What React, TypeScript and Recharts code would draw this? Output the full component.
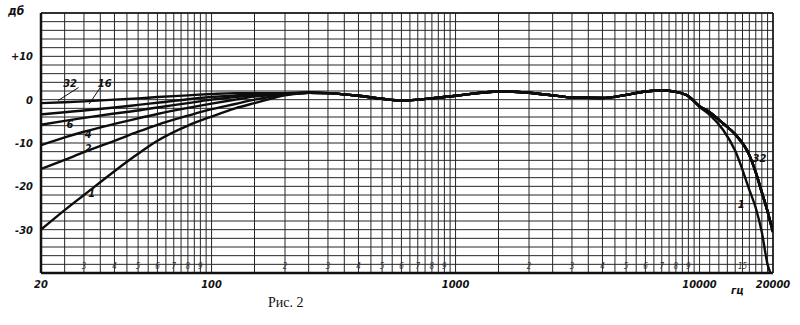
import { LineChart, Line, XAxis, YAxis, CartesianGrid, ReferenceLine, ReferenceDot } from 'recharts'

const freqs = [20, 25, 30, 40, 50, 60, 80, 100, 125, 150, 200, 250, 300, 400, 500, 600, 800, 1000, 1500, 2000, 2500, 3000, 4000, 5000, 6000, 7000, 8000, 9000, 10000, 11000, 12500, 14000, 16000, 17000, 18000, 19000, 19500, 20000]

// 20..200 Hz, one array per curve
const curve1Low = [-30, -25.5, -22, -16.5, -12.5, -9.5, -6, -3.9, -2, -0.8, 1.0]
const curve2Low = [-16, -13.9, -12.1, -9.5, -7.4, -5.8, -3.7, -2.2, -1, 0, 1.2]
const curve4Low = [-10.5, -8.7, -7.4, -5.6, -4.3, -3.3, -1.9, -0.9, 0, 0.7, 1.3]
const curve6Low = [-5.8, -4.9, -4.2, -3.2, -2.5, -1.8, -0.8, 0, 0.6, 1.0, 1.4]
const curve16Low = [-3.4, -2.9, -2.5, -1.8, -1.2, -0.7, 0.1, 0.6, 1.0, 1.3, 1.5]
const curve32Low = [-0.8, -0.6, -0.4, 0, 0.3, 0.6, 1.0, 1.3, 1.5, 1.5, 1.5]

// 250..9000 Hz, all curves coincide
const flatMid = [1.6, 1.5, 0.9, 0.2, -0.2, 0.3, 0.9, 1.9, 1.6, 1.0, 0.5, 0.4, 1.1, 1.9, 2.1, 1.8, 0.8]

// 10000..20000 Hz
const curve1High = [-1.7, -3.5, -7, -11.8, -20.8, -25, -30.6, -38, -40, null]
const curve32High = [-1.5, -2.9, -5.5, -8, -12.8, -16.8, -21.4, -25.8, -28.2, -30.5]

const series = [
  { key: 'c32', values: [...curve32Low, ...flatMid, ...curve32High] },
  { key: 'c16', values: [...curve16Low, ...flatMid, ...curve32High] },
  { key: 'c6', values: [...curve6Low, ...flatMid, ...curve32High] },
  { key: 'c4', values: [...curve4Low, ...flatMid, ...curve32High] },
  { key: 'c2', values: [...curve2Low, ...flatMid, ...curve32High] },
  { key: 'c1', values: [...curve1Low, ...flatMid, ...curve1High] },
]

const gridFreqs = [
  20, 25, 30, 35, 40, 45, 50, 55, 60, 65, 70, 75, 80, 85, 90, 95, 100,
  150, 200, 250, 300, 350, 400, 450, 500, 550, 600, 650, 700, 750, 800, 850, 900, 950, 1000,
  1500, 2000, 2500, 3000, 3500, 4000, 4500, 5000, 5500, 6000, 6500, 7000, 7500, 8000, 8500, 9000, 9500, 10000,
  11000, 12000, 13000, 14000, 15000, 16000, 17000, 18000, 19000, 20000,
]
const freqLabels = [20, 100, 1000, 10000, 20000]
const smallDigits = [30, 40, 50, 60, 70, 80, 90, 200, 300, 400, 500, 600, 700, 800, 900, 2000, 3000, 4000, 5000, 6000, 7000, 8000, 9000, 15000]

const dbGrid = [-40, -38, -36, -34, -32, -30, -28, -26, -24, -22, -20, -18, -16, -14, -12, -10, -8, -6, -4, -2, 0, 2, 4, 6, 8, 10, 12, 14, 16, 18, 20]
const dbLabels = [-30, -20, -10, 0, 10]

const curveLabels = [
  { f: 26.3, db: 3.9, text: '32' },
  { f: 36.5, db: 3.9, text: '16' },
  { f: 26.3, db: -5.6, text: '6' },
  { f: 31.2, db: -8.0, text: '4' },
  { f: 31.2, db: -11.2, text: '2' },
  { f: 32.3, db: -21.6, text: '1' },
  { f: 17600, db: -13.4, text: '32' },
  { f: 14800, db: -24, text: '1' },
]

const data = freqs.map((f, i) => {
  const row: Record<string, number | null> = { f }
  series.forEach(s => { row[s.key] = s.values[i] })
  return row
})

const labelFont = "'DejaVu Sans Condensed', 'DejaVu Sans', sans-serif"

function FreqTick(props: any) {
  const { x, y, payload } = props
  const v = payload.value
  if (freqLabels.includes(v)) {
    return (
      <text x={x} y={y} dy={15} textAnchor="middle" fontSize={11} fontStyle="italic" fontWeight="bold" fontFamily={labelFont} fill="#111">
        {v}
      </text>
    )
  }
  if (smallDigits.includes(v)) {
    const base = Math.pow(10, Math.floor(Math.log10(v)))
    const txt = v === 15000 ? '15' : String(Math.round(v / base))
    return (
      <text x={x} y={y} dy={-4} textAnchor="middle" fontSize={8} fontStyle="italic" fontFamily={labelFont} fill="#333">
        {txt}
      </text>
    )
  }
  return <g />
}

function DbTick(props: any) {
  const { x, y, payload } = props
  const v = payload.value
  if (!dbLabels.includes(v)) return <g />
  return (
    <text x={x} y={y} dx={-8} dy={4} textAnchor="end" fontSize={11} fontStyle="italic" fontWeight="bold" fontFamily={labelFont} fill="#111">
      {v > 0 ? `+${v}` : v}
    </text>
  )
}

export default function App() {
  return (
    <div style={{ position: 'absolute', left: 0, top: 0, width: 800, height: 325, background: '#fff' }}>
      <LineChart width={800} height={325} data={data} margin={{ top: 13, right: 27, bottom: 0, left: 0 }}>
        <CartesianGrid stroke="#262626" strokeWidth={1} />
        <XAxis
          dataKey="f"
          type="number"
          scale="log"
          domain={[20, 20000]}
          ticks={gridFreqs}
          interval={0}
          height={52}
          tickSize={0}
          tickMargin={0}
          axisLine={false}
          tick={<FreqTick />}
          allowDataOverflow
        />
        <YAxis
          type="number"
          domain={[-40, 20]}
          ticks={dbGrid}
          interval={0}
          width={41}
          tickSize={0}
          tickMargin={0}
          axisLine={false}
          tick={<DbTick />}
          allowDataOverflow
        />
        <ReferenceLine x={20} stroke="#111" strokeWidth={2.5} />
        <ReferenceLine x={20000} stroke="#111" strokeWidth={1.5} />
        <ReferenceLine y={20} stroke="#111" strokeWidth={1.5} />
        <ReferenceLine y={-40} stroke="#111" strokeWidth={2.5} />
        {series.map(s => (
          <Line
            key={s.key}
            dataKey={s.key}
            stroke="#0d0d0d"
            strokeWidth={2.4}
            dot={false}
            type="monotone"
            connectNulls={false}
            isAnimationActive={false}
          />
        ))}
        <ReferenceLine segment={[{ x: 28.5, y: 2.8 }, { x: 23.5, y: -0.2 }]} stroke="#111" strokeWidth={1} />
        <ReferenceLine segment={[{ x: 35, y: 2.8 }, { x: 31.5, y: -1.0 }]} stroke="#111" strokeWidth={1} />
        {curveLabels.map((l, i) => (
          <ReferenceDot
            key={i}
            x={l.f}
            y={l.db}
            r={0}
            fill="none"
            stroke="none"
            label={{ value: l.text, position: 'center', fontSize: 11, fontStyle: 'italic', fontWeight: 'bold', fontFamily: labelFont, fill: '#111' }}
          />
        ))}
      </LineChart>
      <div style={{ position: 'absolute', left: 8, top: 4, fontSize: 12, fontStyle: 'italic', fontWeight: 'bold', fontFamily: labelFont, color: '#111' }}>дб</div>
      <div style={{ position: 'absolute', left: 731, top: 284, fontSize: 11, fontStyle: 'italic', fontWeight: 'bold', fontFamily: labelFont, color: '#111' }}>гц</div>
      <div style={{ position: 'absolute', left: 268, top: 295, fontSize: 14, fontFamily: "'Liberation Serif', serif", color: '#111' }}>Рис. 2</div>
    </div>
  )
}
